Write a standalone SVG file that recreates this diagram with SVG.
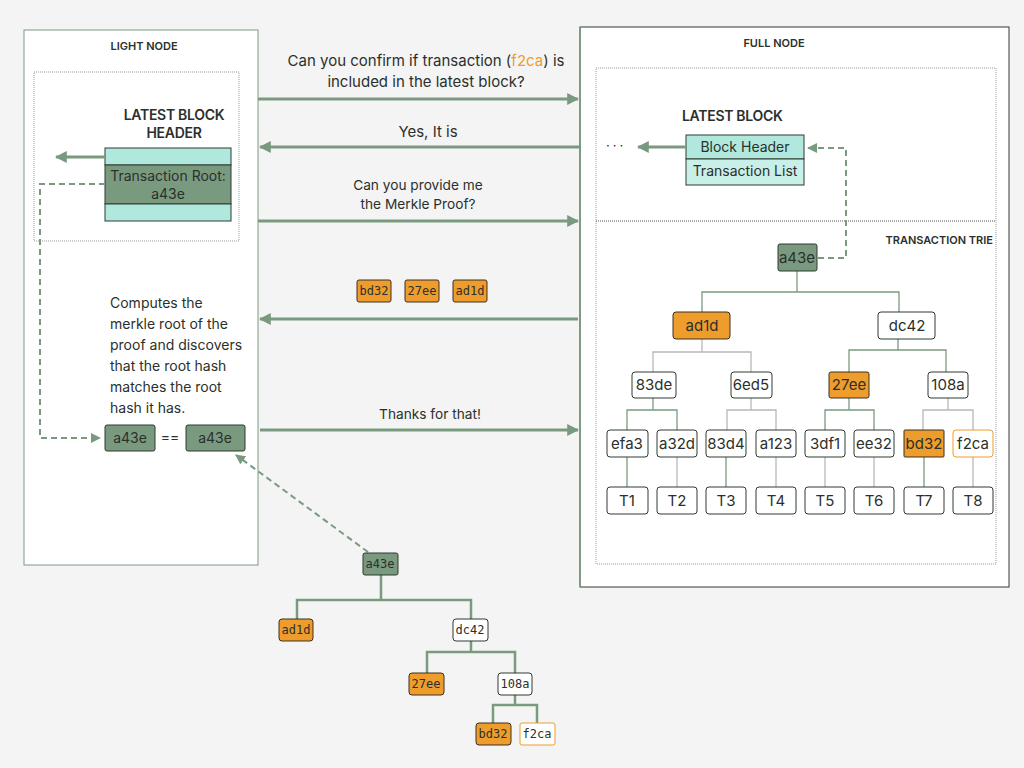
<svg xmlns="http://www.w3.org/2000/svg" width="1024" height="768" viewBox="0 0 1024 768">
<defs>
<style>
text{font-family:Inter,"Liberation Sans",sans-serif;fill:#2b302b}
.t{font-size:13.7px;text-anchor:middle}
.ttl{font-size:11px;font-weight:600;text-anchor:middle}
.hd{font-size:14px;font-weight:600;text-anchor:middle;letter-spacing:-0.3px}
.n{font-size:14px;text-anchor:middle}
.m{font-size:15px;text-anchor:middle}
.q{font-size:15px;text-anchor:middle}
.s{font-size:12px;text-anchor:middle;font-family:"DejaVu Sans Mono",monospace}
.g{fill:#7a9a80;stroke:#2e3a30;stroke-width:1}
.o{fill:#ee9d2d;stroke:#3a3020;stroke-width:1}
.w{fill:#fff;stroke:#2e3a30;stroke-width:1}
.wo{fill:#fff;stroke:#ee9d2d;stroke-width:1}
.lg{stroke:#7a9a80;stroke-width:1.3;fill:none}
.lx{stroke:#b8b8b8;stroke-width:1.3;fill:none}
.ar{stroke:#7a9a80;stroke-width:3;fill:none}
.da{stroke:#7a9a80;stroke-width:2;fill:none;stroke-dasharray:6 4}
</style>
<marker id="ah" viewBox="0 0 10 10" refX="9" refY="5" markerWidth="4" markerHeight="4" orient="auto-start-reverse"><path d="M0,0 L10,5 L0,10 z" fill="#7a9a80"/></marker>
<marker id="ahs" viewBox="0 0 10 10" refX="9" refY="5" markerWidth="5" markerHeight="5" orient="auto-start-reverse"><path d="M0,0 L10,5 L0,10 z" fill="#7a9a80"/></marker>
</defs>
<rect width="1024" height="768" fill="#f4f4f4"/>

<g id="light-node">
<rect x="24" y="30" width="234" height="535" fill="#fff" stroke="#7a9a80" stroke-width="1"/>
<text class="ttl" x="144" y="50">LIGHT NODE</text>
<rect x="34" y="72" width="205" height="169" fill="none" stroke="#999" stroke-width="1" stroke-dasharray="1 1"/>
<text class="hd" x="174" y="120">LATEST BLOCK</text>
<text class="hd" x="174" y="138">HEADER</text>
<rect x="105" y="148" width="126" height="17" fill="#b0e8de" stroke="#2e3a30"/>
<rect x="105" y="165" width="126" height="39" fill="#7a9a80" stroke="#2e3a30"/>
<rect x="105" y="204" width="126" height="17" fill="#b0e8de" stroke="#2e3a30"/>
<text class="n" x="168" y="181">Transaction Root:</text>
<text class="n" x="168" y="199">a43e</text>
<g font-size="14">
<text x="110" y="308">Computes the</text>
<text x="110" y="329">merkle root of the</text>
<text x="110" y="350">proof and discovers</text>
<text x="110" y="371">that the root hash</text>
<text x="110" y="392">matches the root</text>
<text x="110" y="413">hash it has.</text>
</g>
</g>
<g id="cmp-a">
<rect class="g" x="105" y="425" width="50" height="26" rx="2"/>
<text class="n" x="130" y="443">a43e</text>
</g>
<text class="n" x="170" y="442">==</text>
<g id="cmp-b">
<rect class="g" x="186" y="425" width="59" height="26" rx="2"/>
<text class="n" x="215" y="443">a43e</text>
</g>

<g id="full-node">
<rect x="580" y="27" width="429" height="560" fill="#fff" stroke="#2e3a30" stroke-width="1"/>
<line x1="580" y1="27" x2="580" y2="587" stroke="#7a9a80" stroke-width="1.5"/>
<text class="ttl" x="774" y="47">FULL NODE</text>
<rect x="596" y="68" width="400" height="496" fill="none" stroke="#999" stroke-width="1" stroke-dasharray="1 1"/>
<line x1="596" y1="221" x2="996" y2="221" stroke="#555" stroke-width="1" stroke-dasharray="1 1"/>
<text x="682" y="121" font-size="14" font-weight="600" letter-spacing="-0.3">LATEST BLOCK</text>
<rect x="686" y="135" width="118" height="24" fill="#b0e8de" stroke="#2e3a30"/>
<rect x="686" y="159" width="118" height="26" fill="#c8efe8" stroke="#2e3a30"/>
<text class="n" x="745" y="152">Block Header</text>
<text class="n" x="745" y="176">Transaction List</text>
<text x="606" y="150" font-size="13" letter-spacing="3">···</text>
<text x="993" y="244" font-size="11" font-weight="600" text-anchor="end">TRANSACTION TRIE</text>
</g>

<g id="connectors">
<line class="ar" x1="105" y1="157" x2="56" y2="157" marker-end="url(#ah)"/>
<polyline class="da" points="105,184 40,184 40,438 100,438" marker-end="url(#ahs)"/>
<line class="ar" x1="258" y1="99" x2="578" y2="99" marker-end="url(#ah)"/>
<line class="ar" x1="580" y1="147" x2="260" y2="147" marker-end="url(#ah)"/>
<line class="ar" x1="258" y1="221" x2="578" y2="221" marker-end="url(#ah)"/>
<line class="ar" x1="578" y1="319" x2="260" y2="319" marker-end="url(#ah)"/>
<line class="ar" x1="260" y1="430" x2="578" y2="430" marker-end="url(#ah)"/>
<line class="ar" x1="686" y1="147" x2="638" y2="147" marker-end="url(#ah)"/>
<polyline class="da" points="818,258 846,258 846,148 808,148" marker-end="url(#ahs)"/>
<line class="da" x1="368" y1="552" x2="236" y2="455" marker-end="url(#ahs)"/>
<!-- trie -->
<polyline class="lg" points="797,271 797,292"/>
<polyline class="lg" points="702,312 702,292 899,292 899,312"/>
<polyline class="lx" points="702,339 702,352"/>
<polyline class="lx" points="653,372 653,352 751,352 751,372"/>
<polyline class="lg" points="898,339 898,350"/>
<polyline class="lg" points="849,372 849,350 946,350 946,372"/>
<polyline class="lg" points="653,398 653,410"/>
<polyline class="lg" points="627,430 627,410 677,410 677,430"/>
<polyline class="lx" points="751,398 751,410"/>
<polyline class="lx" points="727,430 727,410 776,410 776,430"/>
<polyline class="lg" points="849,398 849,410"/>
<polyline class="lg" points="825,430 825,410 874,410 874,430"/>
<polyline class="lx" points="948,398 948,410"/>
<polyline class="lx" points="923,430 923,410 973,410 973,430"/>
<line class="lg" x1="627" y1="457" x2="627" y2="487"/>
<line class="lx" x1="677" y1="457" x2="677" y2="487"/>
<line class="lg" x1="726" y1="457" x2="726" y2="487"/>
<line class="lx" x1="776" y1="457" x2="776" y2="487"/>
<line class="lx" x1="825" y1="457" x2="825" y2="487"/>
<line class="lx" x1="874" y1="457" x2="874" y2="487"/>
<line class="lg" x1="924" y1="457" x2="924" y2="487"/>
<line class="lx" x1="973" y1="457" x2="973" y2="487"/>
<!-- bottom proof tree -->
<g stroke="#7a9a80" stroke-width="2.5" fill="none">
<polyline points="381,575 381,600"/>
<polyline points="297,619 297,600 471,600 471,619"/>
<polyline points="471,641 471,652"/>
<polyline points="427,673 427,652 515,652 515,673"/>
<polyline points="515,695 515,705"/>
<polyline points="493,723 493,705 537,705 537,723"/>
</g>
</g>

<g id="message-text">
<text class="q" x="426" y="66">Can you confirm if transaction (<tspan style="fill:#ee9d2d">f2ca</tspan>) is</text>
<text class="q" x="426" y="87">included in the latest block?</text>
<text class="q" x="428" y="137">Yes, It is</text>
<text class="t" x="418" y="190">Can you provide me</text>
<text class="t" x="418" y="209">the Merkle Proof?</text>
<text class="t" x="430" y="419">Thanks for that!</text>
</g>
<g id="proof-items">
<rect class="o" x="357" y="280" width="34" height="22" rx="2"/><text class="s" x="374" y="295">bd32</text>
<rect class="o" x="405" y="280" width="34" height="22" rx="2"/><text class="s" x="422" y="295">27ee</text>
<rect class="o" x="453" y="280" width="34" height="22" rx="2"/><text class="s" x="470" y="295">ad1d</text>
</g>

<g id="trie-a43e"><rect class="g" x="778" y="244" width="39" height="27" rx="2"/><text class="m" x="797" y="263">a43e</text></g>
<g id="trie-ad1d"><rect class="o" x="673" y="312" width="57" height="27" rx="3"/><text class="m" x="702" y="331">ad1d</text></g>
<g id="trie-dc42"><rect class="w" x="878" y="312" width="57" height="27" rx="3"/><text class="m" x="907" y="331">dc42</text></g>
<g id="trie-83de"><rect class="w" x="632" y="372" width="44" height="26" rx="3"/><text class="m" x="654" y="390">83de</text></g>
<g id="trie-6ed5"><rect class="w" x="731" y="372" width="41" height="26" rx="3"/><text class="m" x="751" y="390">6ed5</text></g>
<g id="trie-27ee"><rect class="o" x="829" y="372" width="40" height="26" rx="2"/><text class="m" x="849" y="390">27ee</text></g>
<g id="trie-108a"><rect class="w" x="928" y="372" width="40" height="26" rx="3"/><text class="m" x="948" y="390">108a</text></g>
<g id="trie-efa3"><rect class="w" x="607" y="430" width="41" height="27" rx="3"/><text class="m" x="627" y="449">efa3</text></g>
<g id="trie-a32d"><rect class="w" x="657" y="430" width="40" height="27" rx="3"/><text class="m" x="677" y="449">a32d</text></g>
<g id="trie-83d4"><rect class="w" x="706" y="430" width="40" height="27" rx="3"/><text class="m" x="726" y="449">83d4</text></g>
<g id="trie-a123"><rect class="w" x="756" y="430" width="40" height="27" rx="3"/><text class="m" x="776" y="449">a123</text></g>
<g id="trie-3df1"><rect class="w" x="805" y="430" width="40" height="27" rx="3"/><text class="m" x="825" y="449">3df1</text></g>
<g id="trie-ee32"><rect class="w" x="854" y="430" width="40" height="27" rx="3"/><text class="m" x="874" y="449">ee32</text></g>
<g id="trie-bd32"><rect class="o" x="904" y="430" width="40" height="27" rx="1"/><text class="m" x="924" y="449">bd32</text></g>
<g id="trie-f2ca"><rect class="wo" x="953" y="430" width="40" height="27" rx="3"/><text class="m" x="973" y="449">f2ca</text></g>
<g id="trie-T1"><rect class="w" x="607" y="487" width="41" height="27" rx="3"/><text class="m" x="627" y="506">T1</text></g>
<g id="trie-T2"><rect class="w" x="657" y="487" width="40" height="27" rx="3"/><text class="m" x="677" y="506">T2</text></g>
<g id="trie-T3"><rect class="w" x="706" y="487" width="40" height="27" rx="3"/><text class="m" x="726" y="506">T3</text></g>
<g id="trie-T4"><rect class="w" x="756" y="487" width="40" height="27" rx="3"/><text class="m" x="776" y="506">T4</text></g>
<g id="trie-T5"><rect class="w" x="805" y="487" width="40" height="27" rx="3"/><text class="m" x="825" y="506">T5</text></g>
<g id="trie-T6"><rect class="w" x="854" y="487" width="40" height="27" rx="3"/><text class="m" x="874" y="506">T6</text></g>
<g id="trie-T7"><rect class="w" x="904" y="487" width="40" height="27" rx="3"/><text class="m" x="924" y="506">T7</text></g>
<g id="trie-T8"><rect class="w" x="953" y="487" width="40" height="27" rx="3"/><text class="m" x="973" y="506">T8</text></g>

<g id="proof-a43e"><rect class="g" x="363" y="553" width="35" height="22" rx="2"/><text class="s" x="380" y="568">a43e</text></g>
<g id="proof-ad1d"><rect class="o" x="279" y="619" width="34" height="22" rx="3"/><text class="s" x="296" y="634">ad1d</text></g>
<g id="proof-dc42"><rect class="w" x="453" y="619" width="35" height="22" rx="3" stroke="#aaa"/><text class="s" x="470" y="634">dc42</text></g>
<g id="proof-27ee"><rect class="o" x="409" y="673" width="35" height="22" rx="3"/><text class="s" x="426" y="688">27ee</text></g>
<g id="proof-108a"><rect class="w" x="498" y="673" width="34" height="22" rx="3" stroke="#aaa"/><text class="s" x="515" y="688">108a</text></g>
<g id="proof-bd32"><rect class="o" x="476" y="723" width="35" height="22" rx="3"/><text class="s" x="493" y="738">bd32</text></g>
<g id="proof-f2ca"><rect class="wo" x="520" y="723" width="35" height="22" rx="2"/><text class="s" x="537" y="738">f2ca</text></g>
</svg>
